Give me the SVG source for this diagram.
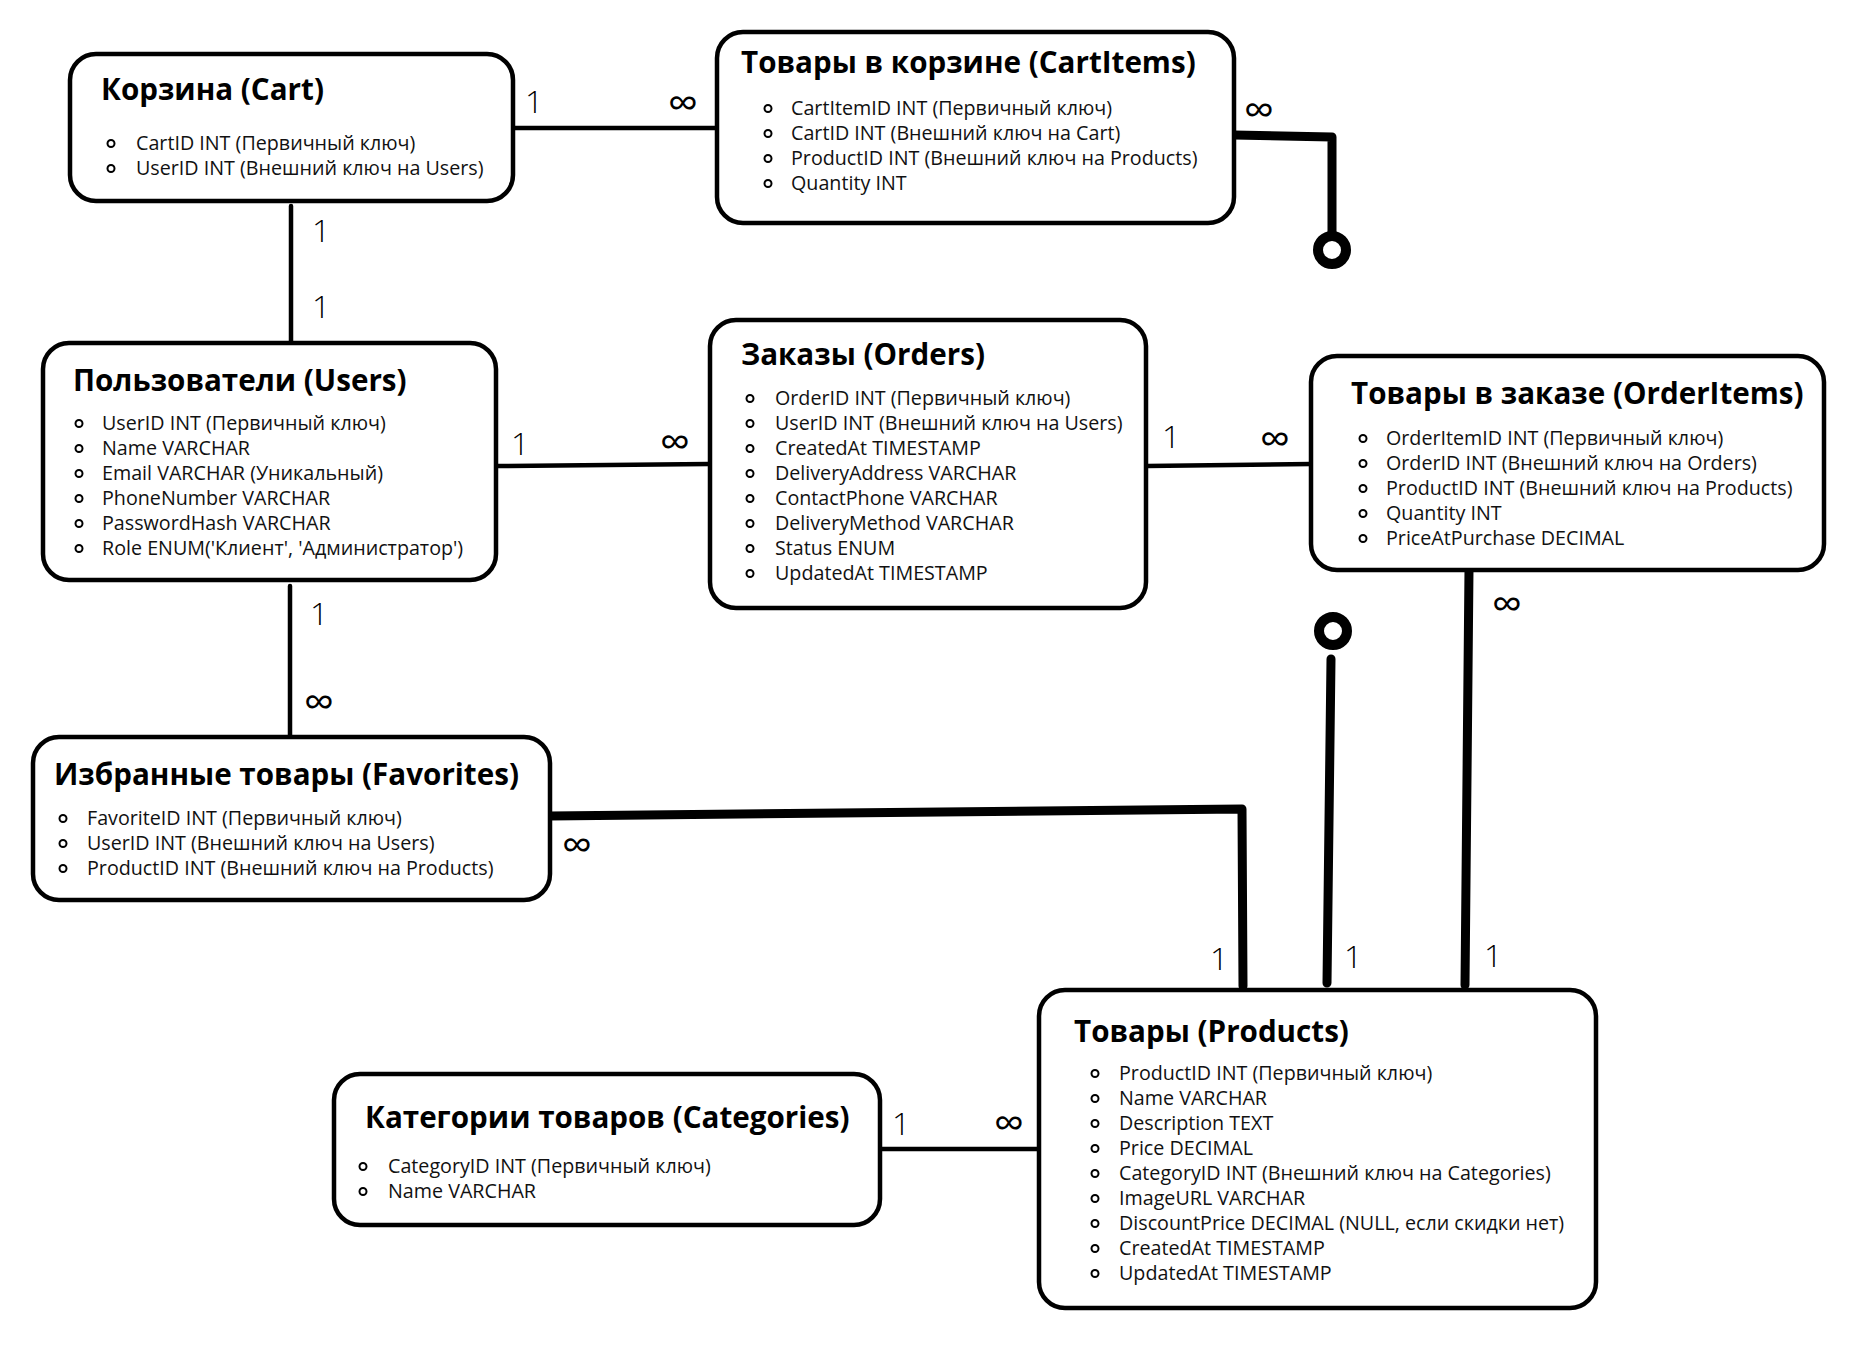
<svg xmlns="http://www.w3.org/2000/svg" width="1869" height="1346" viewBox="0 0 1869 1346">
  <style>
    .box { fill: #fff; stroke: #000; stroke-width: 4.5; }
    .title { font-family: "Open Sans", "Noto Sans", sans-serif; font-weight: 700; font-size: 29.6px; fill: #000; }
    .item { font-family: "Open Sans", "Noto Sans", sans-serif; font-size: 19.7px; fill: #111; }
    .dot { fill: none; stroke: #000; stroke-width: 2; }
    .lbl { font-family: "Open Sans", "Noto Sans", sans-serif; font-size: 32px; font-weight: 300; fill: #000; }
    .inf { font-family: "Open Sans", "DejaVu Sans", sans-serif; font-size: 43px; fill: #000; text-anchor: middle; }
    .thin { fill: none; stroke: #000; stroke-width: 4.5; stroke-linecap: round; }
    .thick { fill: none; stroke: #000; stroke-width: 9; stroke-linecap: round; stroke-linejoin: round; }
    .ring { fill: #fff; stroke: #000; stroke-width: 10; }
  </style>
  <rect width="1869" height="1346" fill="#fff"/>

  <!-- relationships -->
  <g id="connectors">
    <!-- Cart 1 : ∞ CartItems -->
    <line class="thin" x1="514" y1="128" x2="715" y2="128"/>
    <text class="lbl" x="525" y="113">1</text>
    <text class="inf" x="683" y="118">∞</text>

    <!-- Cart 1 : 1 Users -->
    <line class="thin" x1="291" y1="206" x2="291" y2="342"/>
    <text class="lbl" x="312" y="242">1</text>
    <text class="lbl" x="312" y="318">1</text>

    <!-- CartItems ∞ : optional link -->
    <polyline class="thick" points="1234,135 1332,137 1332,232"/>
    <circle class="ring" cx="1332" cy="250" r="14"/>
    <text class="inf" x="1259" y="125">∞</text>

    <!-- Users 1 : ∞ Orders -->
    <line class="thin" x1="497" y1="466" x2="709" y2="464"/>
    <text class="lbl" x="511" y="455">1</text>
    <text class="inf" x="675" y="457">∞</text>

    <!-- Users 1 : ∞ Favorites -->
    <line class="thin" x1="290" y1="586" x2="290" y2="736"/>
    <text class="lbl" x="310" y="625">1</text>
    <text class="inf" x="319" y="717">∞</text>

    <!-- Favorites ∞ : 1 Products -->
    <polyline class="thick" points="550,816 1242,809 1243,986"/>
    <text class="inf" x="577" y="860">∞</text>
    <text class="lbl" x="1210" y="970">1</text>

    <!-- Orders 1 : ∞ OrderItems -->
    <line class="thin" x1="1147" y1="466" x2="1311" y2="464"/>
    <text class="lbl" x="1162" y="448">1</text>
    <text class="inf" x="1275" y="454">∞</text>

    <!-- optional link : 1 Products -->
    <line class="thick" x1="1331" y1="659" x2="1327" y2="983"/>
    <circle class="ring" cx="1333" cy="631" r="14"/>
    <text class="lbl" x="1344" y="968">1</text>

    <!-- OrderItems ∞ : 1 Products -->
    <line class="thick" x1="1469" y1="569" x2="1465" y2="985"/>
    <text class="inf" x="1507" y="619">∞</text>
    <text class="lbl" x="1484" y="967">1</text>

    <!-- Categories 1 : ∞ Products -->
    <line class="thin" x1="881" y1="1149" x2="1039" y2="1149"/>
    <text class="lbl" x="892" y="1135">1</text>
    <text class="inf" x="1009" y="1138">∞</text>
  </g>

  <g id="cart">
    <rect class="box" x="70" y="54" width="443" height="147" rx="26"/>
    <text class="title" x="101" y="100">Корзина (Cart)</text>
    <circle class="dot" cx="111" cy="143.5" r="3.5"/>
    <text class="item" x="136" y="150">CartID INT (Первичный ключ)</text>
    <circle class="dot" cx="111" cy="168.5" r="3.5"/>
    <text class="item" x="136" y="175">UserID INT (Внешний ключ на Users)</text>
  </g>

  <g id="cartitems">
    <rect class="box" x="717" y="32" width="517" height="191" rx="26"/>
    <text class="title" x="741" y="73">Товары в корзине (CartItems)</text>
    <circle class="dot" cx="768" cy="108.5" r="3.5"/>
    <text class="item" x="791" y="115">CartItemID INT (Первичный ключ)</text>
    <circle class="dot" cx="768" cy="133.5" r="3.5"/>
    <text class="item" x="791" y="140">CartID INT (Внешний ключ на Cart)</text>
    <circle class="dot" cx="768" cy="158.5" r="3.5"/>
    <text class="item" x="791" y="165">ProductID INT (Внешний ключ на Products)</text>
    <circle class="dot" cx="768" cy="183.5" r="3.5"/>
    <text class="item" x="791" y="190">Quantity INT</text>
  </g>

  <g id="users">
    <rect class="box" x="43" y="343" width="453" height="237" rx="26"/>
    <text class="title" x="73" y="391">Пользователи (Users)</text>
    <circle class="dot" cx="79" cy="423.5" r="3.5"/>
    <text class="item" x="102" y="430">UserID INT (Первичный ключ)</text>
    <circle class="dot" cx="79" cy="448.5" r="3.5"/>
    <text class="item" x="102" y="455">Name VARCHAR</text>
    <circle class="dot" cx="79" cy="473.5" r="3.5"/>
    <text class="item" x="102" y="480">Email VARCHAR (Уникальный)</text>
    <circle class="dot" cx="79" cy="498.5" r="3.5"/>
    <text class="item" x="102" y="505">PhoneNumber VARCHAR</text>
    <circle class="dot" cx="79" cy="523.5" r="3.5"/>
    <text class="item" x="102" y="530">PasswordHash VARCHAR</text>
    <circle class="dot" cx="79" cy="548.5" r="3.5"/>
    <text class="item" x="102" y="555">Role ENUM('Клиент', 'Администратор')</text>
  </g>

  <g id="orders">
    <rect class="box" x="710" y="320" width="436" height="288" rx="26"/>
    <text class="title" x="741" y="365">Заказы (Orders)</text>
    <circle class="dot" cx="750" cy="398.5" r="3.5"/>
    <text class="item" x="775" y="405">OrderID INT (Первичный ключ)</text>
    <circle class="dot" cx="750" cy="423.5" r="3.5"/>
    <text class="item" x="775" y="430">UserID INT (Внешний ключ на Users)</text>
    <circle class="dot" cx="750" cy="448.5" r="3.5"/>
    <text class="item" x="775" y="455">CreatedAt TIMESTAMP</text>
    <circle class="dot" cx="750" cy="473.5" r="3.5"/>
    <text class="item" x="775" y="480">DeliveryAddress VARCHAR</text>
    <circle class="dot" cx="750" cy="498.5" r="3.5"/>
    <text class="item" x="775" y="505">ContactPhone VARCHAR</text>
    <circle class="dot" cx="750" cy="523.5" r="3.5"/>
    <text class="item" x="775" y="530">DeliveryMethod VARCHAR</text>
    <circle class="dot" cx="750" cy="548.5" r="3.5"/>
    <text class="item" x="775" y="555">Status ENUM</text>
    <circle class="dot" cx="750" cy="573.5" r="3.5"/>
    <text class="item" x="775" y="580">UpdatedAt TIMESTAMP</text>
  </g>

  <g id="orderitems">
    <rect class="box" x="1311" y="356" width="513" height="214" rx="26"/>
    <text class="title" x="1351" y="404">Товары в заказе (OrderItems)</text>
    <circle class="dot" cx="1363" cy="438.5" r="3.5"/>
    <text class="item" x="1386" y="445">OrderItemID INT (Первичный ключ)</text>
    <circle class="dot" cx="1363" cy="463.5" r="3.5"/>
    <text class="item" x="1386" y="470">OrderID INT (Внешний ключ на Orders)</text>
    <circle class="dot" cx="1363" cy="488.5" r="3.5"/>
    <text class="item" x="1386" y="495">ProductID INT (Внешний ключ на Products)</text>
    <circle class="dot" cx="1363" cy="513.5" r="3.5"/>
    <text class="item" x="1386" y="520">Quantity INT</text>
    <circle class="dot" cx="1363" cy="538.5" r="3.5"/>
    <text class="item" x="1386" y="545">PriceAtPurchase DECIMAL</text>
  </g>

  <g id="favorites">
    <rect class="box" x="33" y="737" width="517" height="163" rx="26"/>
    <text class="title" x="54" y="785">Избранные товары (Favorites)</text>
    <circle class="dot" cx="63" cy="818.5" r="3.5"/>
    <text class="item" x="87" y="825">FavoriteID INT (Первичный ключ)</text>
    <circle class="dot" cx="63" cy="843.5" r="3.5"/>
    <text class="item" x="87" y="850">UserID INT (Внешний ключ на Users)</text>
    <circle class="dot" cx="63" cy="868.5" r="3.5"/>
    <text class="item" x="87" y="875">ProductID INT (Внешний ключ на Products)</text>
  </g>

  <g id="categories">
    <rect class="box" x="334" y="1074" width="546" height="151" rx="26"/>
    <text class="title" x="365" y="1128">Категории товаров (Categories)</text>
    <circle class="dot" cx="363" cy="1166.5" r="3.5"/>
    <text class="item" x="388" y="1173">CategoryID INT (Первичный ключ)</text>
    <circle class="dot" cx="363" cy="1191.5" r="3.5"/>
    <text class="item" x="388" y="1198">Name VARCHAR</text>
  </g>

  <g id="products">
    <rect class="box" x="1039" y="990" width="557" height="318" rx="26"/>
    <text class="title" x="1074" y="1042">Товары (Products)</text>
    <circle class="dot" cx="1095" cy="1073.5" r="3.5"/>
    <text class="item" x="1119" y="1080">ProductID INT (Первичный ключ)</text>
    <circle class="dot" cx="1095" cy="1098.5" r="3.5"/>
    <text class="item" x="1119" y="1105">Name VARCHAR</text>
    <circle class="dot" cx="1095" cy="1123.5" r="3.5"/>
    <text class="item" x="1119" y="1130">Description TEXT</text>
    <circle class="dot" cx="1095" cy="1148.5" r="3.5"/>
    <text class="item" x="1119" y="1155">Price DECIMAL</text>
    <circle class="dot" cx="1095" cy="1173.5" r="3.5"/>
    <text class="item" x="1119" y="1180">CategoryID INT (Внешний ключ на Categories)</text>
    <circle class="dot" cx="1095" cy="1198.5" r="3.5"/>
    <text class="item" x="1119" y="1205">ImageURL VARCHAR</text>
    <circle class="dot" cx="1095" cy="1223.5" r="3.5"/>
    <text class="item" x="1119" y="1230">DiscountPrice DECIMAL (NULL, если скидки нет)</text>
    <circle class="dot" cx="1095" cy="1248.5" r="3.5"/>
    <text class="item" x="1119" y="1255">CreatedAt TIMESTAMP</text>
    <circle class="dot" cx="1095" cy="1273.5" r="3.5"/>
    <text class="item" x="1119" y="1280">UpdatedAt TIMESTAMP</text>
  </g>
</svg>
